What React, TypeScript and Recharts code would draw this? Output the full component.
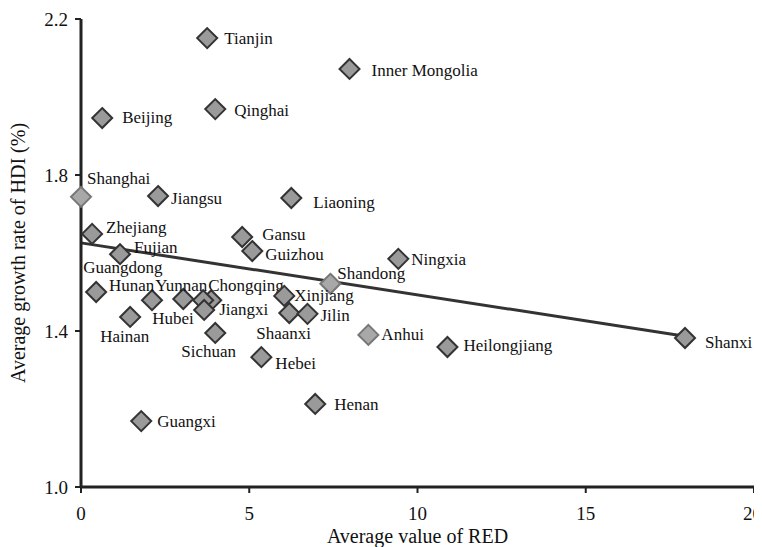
import { ScatterChart, Scatter, XAxis, YAxis, ReferenceLine } from "recharts";

const provinces = [
  "Tianjin", "Inner Mongolia", "Beijing", "Qinghai", "Shanghai", "Jiangsu",
  "Liaoning", "Zhejiang", "Gansu", "Guizhou", "Fujian", "Ningxia",
  "Shandong", "Guangdong", "Hunan", "Yunnan", "Chongqing", "Hubei",
  "Jiangxi", "Xinjiang", "Shaanxi", "Jilin", "Hainan", "Sichuan",
  "Hebei", "Henan", "Guangxi", "Anhui", "Heilongjiang", "Shanxi",
];
const redValues = [
  3.75, 7.98, 0.63, 3.99, 0.0, 2.29,
  6.25, 0.33, 4.79, 5.09, 1.16, 9.43,
  7.41, 0.45, 2.11, 3.04, 3.87, 3.63,
  3.66, 6.04, 6.19, 6.73, 1.46, 3.99,
  5.36, 6.96, 1.79, 8.54, 10.89, 17.95,
];
const hdiGrowth = [
  2.151, 2.072, 1.946, 1.969, 1.744, 1.746,
  1.741, 1.649, 1.641, 1.605, 1.597, 1.585,
  1.521, 1.5, 1.479, 1.482, 1.479, 1.479,
  1.454, 1.49, 1.446, 1.444, 1.436, 1.395,
  1.333, 1.213, 1.169, 1.39, 1.359, 1.382,
];
const trendX = [0, 18];
const trendY = [1.626, 1.386];
const xTicks = [0, 5, 10, 15, 20];
const yTicks = [1.0, 1.4, 1.8, 2.2];

// where each name sits relative to its marker (text start, vertical middle)
const labelPos: Record<string, [number, number]> = {
  Tianjin: [17, 0], "Inner Mongolia": [22, 2], Beijing: [20, -1], Qinghai: [19, 1],
  Shanghai: [6, -18], Jiangsu: [13, 2], Liaoning: [22, 4], Zhejiang: [14, -6],
  Gansu: [20, -3], Guizhou: [13, 3], Fujian: [14, -7], Ningxia: [13, 1],
  Shandong: [7, -10], Guangdong: [-13, -25], Hunan: [-43, -15], Yunnan: [-28, -14],
  Chongqing: [-3, -15], Hubei: [-51, 18], Jiangxi: [15, 0], Xinjiang: [10, 0],
  Shaanxi: [-33, 20], Jilin: [13, 2], Hainan: [-30, 20], Sichuan: [-34, 19],
  Hebei: [14, 6], Henan: [19, 1], Guangxi: [16, 0], Anhui: [13, 0],
  Heilongjiang: [16, -1], Shanxi: [20, 4],
};
const lightOnes = ["Shanghai", "Shandong", "Anhui"];

const FONT = "'Liberation Serif', 'DejaVu Serif', serif";
const textStyle = { fontFamily: FONT };

const points = provinces.map((name, i) => ({ name, x: redValues[i], y: hdiGrowth[i] }));

function Diamond(props: any) {
  const { cx, cy, payload } = props;
  if (cx == null || cy == null) return null;
  const r = 10;
  const light = lightOnes.includes(payload.name);
  const [dx, dy] = labelPos[payload.name] || [14, 0];
  return (
    <g>
      <polygon
        points={`${cx},${cy - r} ${cx + r},${cy} ${cx},${cy + r} ${cx - r},${cy}`}
        fill={light ? "#a8a8a8" : "#9a9a9a"}
        stroke={light ? "#777" : "#333"}
        strokeWidth={2}
      />
      <text
        x={cx + dx}
        y={cy + dy}
        dominantBaseline="central"
        style={textStyle}
        fontSize={17}
        fill="#111"
      >
        {payload.name}
      </text>
    </g>
  );
}

export default function App() {
  return (
    <div style={{ fontFamily: FONT }}>
      <ScatterChart
        width={754}
        height={539}
        margin={{ top: 11, right: 8, left: 0, bottom: 0 }}
        style={{ fontFamily: FONT }}
      >
        <XAxis
          type="number"
          dataKey="x"
          domain={[0, 20]}
          ticks={xTicks}
          height={60}
          axisLine={{ stroke: "#222", strokeWidth: 3 }}
          tickLine={{ stroke: "#222", strokeWidth: 2 }}
          tickSize={6}
          tickMargin={14}
          tick={{ fill: "#111", fontSize: 19, style: textStyle }}
          label={{
            content: (p: any) => (
              <text
                x={p.viewBox.x + p.viewBox.width / 2}
                y={p.viewBox.y + 49}
                textAnchor="middle"
                dominantBaseline="central"
                style={textStyle}
                fontSize={20}
                fill="#111"
              >
                Average value of RED
              </text>
            ),
          }}
        />
        <YAxis
          type="number"
          dataKey="y"
          domain={[1.0, 2.2]}
          ticks={yTicks}
          width={73}
          tickFormatter={(v: number) => v.toFixed(1)}
          axisLine={{ stroke: "#222", strokeWidth: 3 }}
          tickLine={{ stroke: "#222", strokeWidth: 2 }}
          tickSize={6}
          tickMargin={7}
          tick={{ fill: "#111", fontSize: 19, style: textStyle }}
          label={{
            content: (p: any) => {
              const x = p.viewBox.x + 10;
              const y = p.viewBox.y + p.viewBox.height / 2;
              return (
                <text
                  x={x}
                  y={y}
                  transform={`rotate(-90, ${x}, ${y})`}
                  textAnchor="middle"
                  dominantBaseline="central"
                  style={textStyle}
                  fontSize={20}
                  fill="#111"
                >
                  Average growth rate of HDI (%)
                </text>
              );
            },
          }}
        />
        <ReferenceLine
          segment={[
            { x: trendX[0], y: trendY[0] },
            { x: trendX[1], y: trendY[1] },
          ]}
          stroke="#333"
          strokeWidth={3}
        />
        <Scatter data={points} shape={Diamond} isAnimationActive={false} />
      </ScatterChart>
    </div>
  );
}
